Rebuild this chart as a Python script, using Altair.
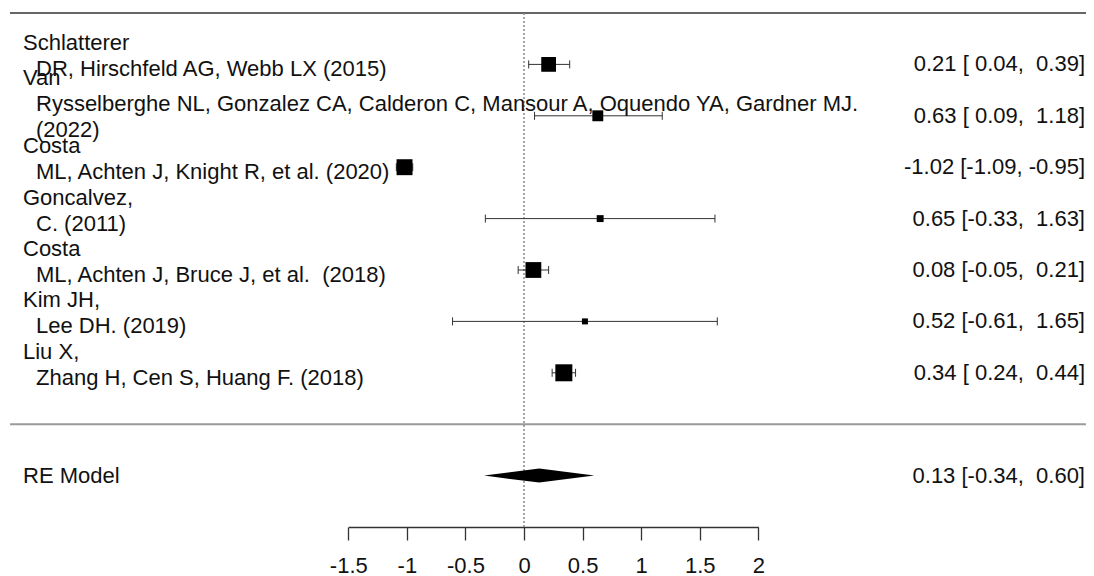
import altair as alt
import pandas as pd

# ---------------- data ----------------
study_labels = [
    "Schlatterer\nDR, Hirschfeld AG, Webb LX (2015)",
    "Van\nRysselberghe NL, Gonzalez CA, Calderon C, Mansour A, Oquendo YA, Gardner MJ.\n(2022)",
    "Costa\nML, Achten J, Knight R, et al. (2020)",
    "Goncalvez,\nC. (2011)",
    "Costa\nML, Achten J, Bruce J, et al.  (2018)",
    "Kim JH,\nLee DH. (2019)",
    "Liu X,\nZhang H, Cen S, Huang F. (2018)",
]
estimates = [0.21, 0.63, -1.02, 0.65, 0.08, 0.52, 0.34]
ci_lower = [0.04, 0.09, -1.09, -0.33, -0.05, -0.61, 0.24]
ci_upper = [0.39, 1.18, -0.95, 1.63, 0.21, 1.65, 0.44]
weights = [16.0, 13.1, 16.9, 10.1, 16.8, 9.4, 17.7]
rows = [7, 6, 5, 4, 3, 2, 1]

model_label = "RE Model"
model_row = -1
model_est = 0.13
model_lower = -0.34
model_upper = 0.60

tick_values = [-1.5, -1, -0.5, 0, 0.5, 1, 1.5, 2]
tick_labels = ["-1.5", "-1", "-0.5", "0", "0.5", "1", "1.5", "2"]

# ---------------- layout / style ----------------
W, H = 1078, 519
ROW_PX = 51.4
FONT = "Liberation Sans, Arial, Helvetica, sans-serif"
FS = 22
TXT = "#111111"
NBSP = "\u00a0"


def fmt_ann(e, lo, hi):
    s = f"{e:.2f} [{lo:5.2f}, {hi:5.2f}]"
    return s.replace("  ", " " + NBSP)


studies = pd.DataFrame({
    "label": study_labels,
    "row": rows,
    "est": estimates,
    "lo": ci_lower,
    "hi": ci_upper,
    "w": weights,
})
studies["ann"] = [fmt_ann(e, l, h) for e, l, h in zip(estimates, ci_lower, ci_upper)]

# one record per label line (multi-line labels as in the original plot)
line_recs = []
for lab, r in zip(study_labels, rows):
    parts = lab.split("\n")
    n = len(parts)
    for i, p in enumerate(parts):
        off_px = -4 * n + (i - (n - 1) / 2) * 26
        line_recs.append({
            "text": p.replace("  ", " " + NBSP),
            "first": i == 0,
            "ty": r - off_px / ROW_PX,
        })
lines_df = pd.DataFrame(line_recs)

model_df = pd.DataFrame({
    "label": [model_label],
    "row": [model_row],
    "ann": [fmt_ann(model_est, model_lower, model_upper)],
})

half_h = 7 / ROW_PX
diamond_df = pd.DataFrame({
    "x": [model_lower, model_est, model_upper],
    "ytop": [model_row, model_row + half_h, model_row],
    "ybot": [model_row, model_row - half_h, model_row],
})

label_expr = "[{}][indexof([{}], datum.value)]".format(
    ",".join("'" + t + "'" for t in tick_labels),
    ",".join(str(v) for v in tick_values),
)

x_scale = alt.Scale(domain=[-1.5, 2], range=[340.3, 750.3], nice=False, zero=False)
y_scale = alt.Scale(domain=[-2, 8], range=[H, 5], nice=False, zero=False)
x_axis = alt.Axis(
    values=tick_values, labelExpr=label_expr, tickSize=13, grid=False,
    domainColor="#333333", tickColor="#333333", domainWidth=1.3, tickWidth=1.3,
    labelFont=FONT, labelFontSize=FS, labelColor=TXT, labelPadding=15,
    labelOverlap=False, labelFlush=False, title=None,
)


def xenc(field):
    return alt.X(f"{field}:Q", scale=x_scale, axis=x_axis)


def yenc(field):
    return alt.Y(f"{field}:Q", scale=y_scale, axis=None)


wmin, wmax = min(weights), max(weights)

# top rule
top_line = alt.Chart(pd.DataFrame({"r": [8]})).mark_rule(
    color="#333333", strokeWidth=1.5
).encode(x=alt.value(2), x2=alt.value(W), y=yenc("r"))

# separator before summary
sep_line = alt.Chart(pd.DataFrame({"r": [0]})).mark_rule(
    color="#9a9a9a", strokeWidth=2
).encode(x=alt.value(2), x2=alt.value(W), y=yenc("r"))

# reference line at 0
zero_line = alt.Chart(pd.DataFrame({"x0": [0], "r1": [8], "r2": [-2]})).mark_rule(
    color="#888888", strokeWidth=1.5, strokeDash=[2, 2]
).encode(x=xenc("x0"), y=yenc("r1"), y2="r2:Q")

ci = alt.Chart(studies).mark_rule(color="#333333", strokeWidth=1).encode(
    x=xenc("lo"), x2="hi:Q", y=yenc("row")
)

caps = alt.Chart(studies).transform_fold(["lo", "hi"], as_=["end", "val"]).mark_rule(
    color="#333333", strokeWidth=1, yOffset=-4, y2Offset=4
).encode(x=xenc("val"), y=yenc("row"), y2="row:Q")

squares = alt.Chart(studies).transform_calculate(
    side=f"6 + (datum.w - {wmin}) / ({wmax} - {wmin}) * 11"
).transform_calculate(
    area="datum.side * datum.side"
).mark_square(filled=True, color="black", opacity=1).encode(
    x=xenc("est"), y=yenc("row"), size=alt.Size("area:Q", scale=None)
)

diamond = alt.Chart(diamond_df).mark_area(color="black", opacity=1).encode(
    x=xenc("x"), y=yenc("ytop"), y2="ybot:Q"
)

text_kw = dict(font=FONT, fontSize=FS, color=TXT, baseline="middle")

first_lines = alt.Chart(lines_df).transform_filter("datum.first").mark_text(
    align="left", **text_kw
).encode(x=alt.value(15), y=yenc("ty"), text="text:N")

cont_lines = alt.Chart(lines_df).transform_filter("!datum.first").mark_text(
    align="left", **text_kw
).encode(x=alt.value(28), y=yenc("ty"), text="text:N")

ann = alt.Chart(studies).mark_text(align="right", **text_kw).encode(
    x=alt.value(W - 1), y=yenc("row"), text="ann:N"
)

model_lab = alt.Chart(model_df).mark_text(align="left", **text_kw).encode(
    x=alt.value(15), y=yenc("row"), text="label:N"
)
model_ann = alt.Chart(model_df).mark_text(align="right", **text_kw).encode(
    x=alt.value(W - 1), y=yenc("row"), text="ann:N"
)

chart = alt.layer(
    top_line, sep_line, zero_line, ci, caps, squares, diamond,
    first_lines, cont_lines, ann, model_lab, model_ann,
).properties(
    width=W, height=H,
    autosize=alt.AutoSizeParams(type="none"),
    padding={"left": 0, "top": 0, "right": 0, "bottom": 49},
    background="white",
).configure_view(strokeWidth=0)

chart.save("out.html", embed_options={"renderer": "svg", "actions": False})
